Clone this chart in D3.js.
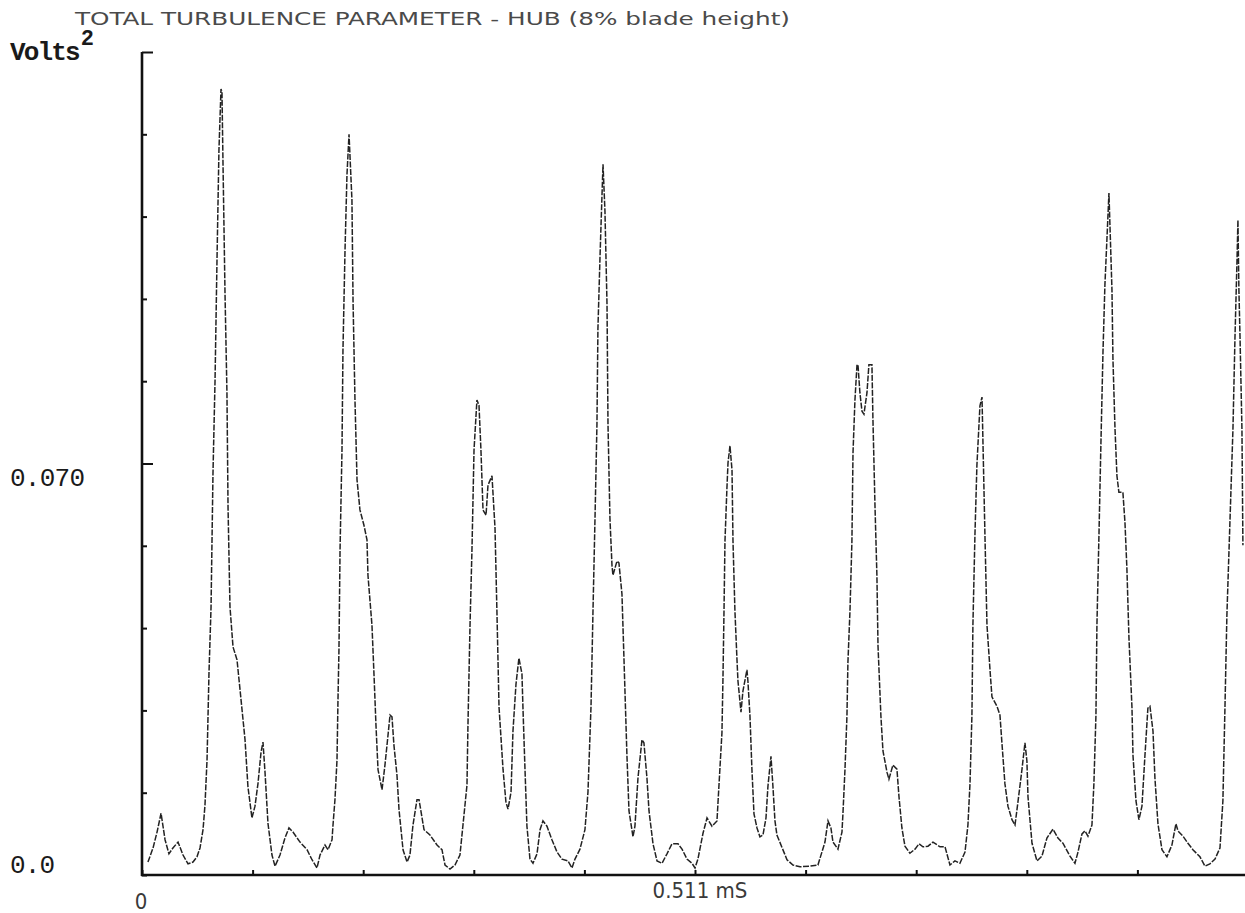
<!DOCTYPE html>
<html>
<head>
<meta charset="utf-8">
<script src="https://cdn.jsdelivr.net/npm/d3@7"></script>
<style>
  body { margin: 0; background: #fff; }
  .mono { font-family: "Liberation Mono", "DejaVu Sans Mono", monospace; fill: #1a1a1a; }
  .thin { font-family: "Liberation Sans Narrow", "DejaVu Sans Condensed", "DejaVu Sans", sans-serif; fill: #3a3a3a; font-stretch: condensed; }
</style>
</head>
<body>
<div id="chart-area"></div>
<script>
// DATA

let titleText = "TOTAL TURBULENCE PARAMETER - HUB (8% blade height)";
let yUnitLabel = "Volts";

// y axis: ticks every 0.014 V^2, labelled ones
let yTicks = [0, 0.014, 0.028, 0.042, 0.056, 0.070, 0.084, 0.098, 0.112, 0.126, 0.14];
let yLabels = [{ v: 0, text: "0.0" }, { v: 0.070, text: "0.070" }];

// x axis: time in microseconds, ticks every 102.2 us
let xTicks = [0, 102.2, 204.4, 306.6, 408.8, 511, 613.2, 715.4, 817.6, 919.8, 1022];
let xLabels = [{ t: 0, text: "0" }, { t: 511, text: "0.511 mS" }];

// trace: [time (us), value (V^2)]
let trace = [
  [5.5,0.0022],[10.2,0.0046],[13.9,0.0073],[17.6,0.0105],[21.3,0.0060],[24.9,0.0036],[28.6,0.0046],
  [33.3,0.0056],[37.9,0.0034],[42.5,0.0019],[47.1,0.0022],[50.8,0.0031],[53.6,0.0046],[56.4,0.0077],
  [58.2,0.0119],[60.1,0.0196],[61.9,0.0344],[63.8,0.0456],[65.6,0.0684],[67.5,0.0842],[69.3,0.1046],
  [71.1,0.1233],[73.0,0.1337],[73.9,0.1332],[74.8,0.1216],[76.7,0.0990],[78.5,0.0820],[79.5,0.0626],
  [81.3,0.0456],[84.1,0.0388],[87.8,0.0366],[90.6,0.0315],[95.2,0.0230],[97.9,0.0150],[101.6,0.0097],
  [104.4,0.0117],[107.2,0.0156],[110.0,0.0209],[111.8,0.0226],[113.7,0.0174],[116.4,0.0088],[120.1,0.0034],
  [122.9,0.0015],[127.5,0.0034],[132.1,0.0063],[135.8,0.0080],[139.5,0.0073],[146.0,0.0056],[152.5,0.0043],
  [157.1,0.0026],[161.7,0.0012],[164.5,0.0034],[169.1,0.0051],[171.9,0.0043],[175.6,0.0060],[176.5,0.0085],
  [178.3,0.0128],[180.2,0.0196],[181.1,0.0298],[182.0,0.0383],[183.0,0.0553],[184.8,0.0723],[185.7,0.0893],
  [187.6,0.1063],[189.4,0.1191],[191.3,0.1260],[194.0,0.1148],[195.0,0.0978],[196.8,0.0808],[198.7,0.0672],
  [201.4,0.0621],[205.1,0.0595],[207.9,0.0570],[208.8,0.0510],[212.5,0.0425],[214.4,0.0340],[216.2,0.0255],
  [218.1,0.0179],[221.8,0.0145],[224.5,0.0187],[226.4,0.0221],[229.2,0.0272],[231.0,0.0269],[232.8,0.0221],
  [235.6,0.0170],[237.5,0.0111],[241.2,0.0043],[244.9,0.0022],[247.6,0.0034],[250.4,0.0085],[254.1,0.0128],
  [256.0,0.0128],[260.6,0.0077],[266.1,0.0068],[272.6,0.0051],[277.2,0.0043],[280.0,0.0017],[284.6,0.0010],
  [289.2,0.0017],[293.8,0.0034],[296.6,0.0085],[300.3,0.0153],[301.2,0.0255],[303.1,0.0425],[304.9,0.0553],
  [306.8,0.0723],[309.5,0.0808],[311.4,0.0799],[313.2,0.0723],[315.1,0.0621],[317.9,0.0612],[319.7,0.0663],
  [323.4,0.0679],[326.2,0.0590],[328.0,0.0446],[329.9,0.0286],[333.6,0.0180],[336.3,0.0124],[338.2,0.0112],
  [341.0,0.0141],[342.8,0.0245],[345.6,0.0325],[348.3,0.0369],[351.1,0.0342],[352.0,0.0286],[353.9,0.0180],
  [355.7,0.0083],[358.5,0.0027],[361.3,0.0020],[365.0,0.0036],[367.8,0.0077],[370.5,0.0092],[374.2,0.0083],
  [378.8,0.0060],[383.5,0.0039],[388.1,0.0027],[393.6,0.0024],[397.3,0.0012],[400.1,0.0027],[404.7,0.0044],
  [409.3,0.0077],[412.1,0.0141],[414.9,0.0286],[416.7,0.0446],[418.6,0.0607],[420.4,0.0767],[421.3,0.0929],
  [423.2,0.1050],[425.0,0.1153],[426.0,0.1209],[427.8,0.1129],[429.7,0.0970],[430.6,0.0767],[432.4,0.0607],
  [434.3,0.0526],[435.2,0.0510],[438.9,0.0534],[440.7,0.0531],[443.5,0.0478],[445.4,0.0366],[448.1,0.0204],
  [450.0,0.0109],[453.7,0.0065],[455.5,0.0083],[458.3,0.0165],[462.0,0.0230],[463.8,0.0225],[466.6,0.0165],
  [468.5,0.0109],[472.2,0.0053],[475.9,0.0024],[480.5,0.0020],[485.1,0.0036],[489.7,0.0053],[495.3,0.0053],
  [499.0,0.0044],[503.6,0.0027],[508.2,0.0020],[511.0,0.0012],[513.7,0.0027],[518.4,0.0071],[522.1,0.0097],
  [526.7,0.0083],[531.3,0.0092],[533.1,0.0151],[535.9,0.0242],[536.8,0.0330],[537.8,0.0449],[538.7,0.0568],
  [540.5,0.0658],[541.5,0.0701],[543.3,0.0730],[545.2,0.0689],[546.1,0.0568],[547.9,0.0449],[549.8,0.0366],
  [550.7,0.0330],[553.5,0.0277],[555.3,0.0313],[559.0,0.0349],[559.9,0.0330],[561.8,0.0270],[563.6,0.0180],
  [565.5,0.0104],[568.3,0.0080],[571.0,0.0065],[573.8,0.0068],[576.6,0.0097],[578.4,0.0151],[581.2,0.0202],
  [583.0,0.0151],[584.9,0.0092],[586.7,0.0068],[596.0,0.0026],[601.5,0.0017],[608.0,0.0014],[617.2,0.0015],
  [624.6,0.0017],[631.1,0.0056],[633.9,0.0092],[636.6,0.0080],[638.5,0.0056],[643.1,0.0044],[646.8,0.0073],
  [647.7,0.0104],[649.6,0.0180],[651.4,0.0270],[652.3,0.0361],[654.2,0.0449],[656.0,0.0568],[657.0,0.0718],
  [658.8,0.0808],[660.7,0.0868],[661.6,0.0868],[663.4,0.0820],[665.3,0.0789],[667.1,0.0784],[669.9,0.0820],
  [671.7,0.0868],[674.5,0.0868],[675.4,0.0777],[677.3,0.0629],[679.1,0.0509],[680.1,0.0390],[682.8,0.0270],
  [684.7,0.0211],[688.4,0.0175],[690.2,0.0163],[693.9,0.0187],[697.6,0.0180],[699.5,0.0133],[702.2,0.0080],
  [705.0,0.0049],[709.6,0.0037],[714.3,0.0044],[718.0,0.0053],[721.6,0.0048],[726.3,0.0049],[730.9,0.0056],
  [737.4,0.0048],[742.0,0.0048],[746.6,0.0017],[751.2,0.0024],[755.8,0.0020],[760.5,0.0039],[763.2,0.0085],
  [765.1,0.0155],[766.9,0.0272],[767.8,0.0425],[769.7,0.0580],[771.5,0.0697],[774.3,0.0798],[776.2,0.0813],
  [777.1,0.0735],[778.9,0.0580],[780.8,0.0425],[783.6,0.0349],[785.4,0.0303],[790.0,0.0287],[792.8,0.0272],
  [794.6,0.0225],[797.4,0.0155],[800.2,0.0117],[803.9,0.0094],[806.7,0.0085],[809.4,0.0124],[813.1,0.0179],
  [815.9,0.0225],[817.7,0.0194],[818.7,0.0133],[822.4,0.0054],[827.0,0.0024],[831.6,0.0032],[836.2,0.0063],
  [841.8,0.0078],[846.4,0.0063],[851.0,0.0054],[857.5,0.0032],[862.1,0.0020],[864.9,0.0039],[868.6,0.0070],
  [871.3,0.0075],[874.1,0.0066],[877.8,0.0085],[879.6,0.0155],[881.5,0.0272],[882.4,0.0425],[884.3,0.0580],
  [886.1,0.0735],[888.0,0.0890],[889.8,0.1005],[891.7,0.1084],[893.5,0.1160],[896.3,0.0995],[897.2,0.0878],
  [899.1,0.0759],[900.9,0.0679],[902.7,0.0651],[906.4,0.0651],[908.3,0.0600],[910.1,0.0521],[912.0,0.0403],
  [914.8,0.0284],[915.7,0.0204],[918.5,0.0126],[921.2,0.0094],[924.0,0.0117],[926.8,0.0204],[929.5,0.0284],
  [931.4,0.0287],[934.2,0.0245],[936.0,0.0165],[938.8,0.0087],[942.5,0.0043],[947.1,0.0031],[951.7,0.0051],
  [955.4,0.0087],[957.3,0.0075],[961.9,0.0066],[966.5,0.0054],[971.1,0.0043],[977.6,0.0031],[982.2,0.0015],
  [986.8,0.0019],[991.5,0.0027],[996.1,0.0046],[998.8,0.0126],[1000.7,0.0284],[1002.5,0.0442],[1005.3,0.0600],
  [1008.1,0.0759],[1010.0,0.0917],[1011.8,0.1043],[1012.7,0.1114],[1013.6,0.0995],[1014.6,0.0917],
  [1016.4,0.0759],[1017.3,0.0561]
];

// CHART AREA

let width = 1245,
  height = 913;

let svg = d3
  .select("#chart-area")
  .append("svg")
  .attr("width", width)
  .attr("height", height);

let x = d3.scaleLinear().domain([0, 1022]).range([142, 1248]);
let y = d3.scaleLinear().domain([0, 0.14]).range([875, 52]);

// TITLE

svg.append("text")
  .attr("class", "thin")
  .attr("x", 75)
  .attr("y", 25)
  .attr("textLength", 715)
  .attr("lengthAdjust", "spacingAndGlyphs")
  .style("font-size", "18px")
  .style("fill", "#4a4a4a")
  .text(titleText);

let unit = svg.append("text")
  .attr("class", "mono")
  .attr("x", 10)
  .attr("y", 60)
  .attr("textLength", 84)
  .style("font-size", "26px")
  .style("font-weight", "bold");
unit.append("tspan").text(yUnitLabel);
unit.append("tspan")
  .attr("dy", -15)
  .attr("dx", 2)
  .style("font-size", "22px")
  .text("2");

// AXES

let yAxis = d3.axisRight(y)
  .tickValues(yTicks)
  .tickSize(5)
  .tickFormat("");

let yAxisGroup = svg.append("g")
  .attr("transform", "translate(" + x(0) + ",0)")
  .call(yAxis);

yAxisGroup.select(".domain").remove();
yAxisGroup.selectAll(".tick line")
  .attr("stroke", "#111")
  .attr("stroke-width", 2)
  .attr("x2", function(d) {
    return d === 0.070 || d === 0.14 ? 11 : 5;
  });

let xAxis = d3.axisTop(x)
  .tickValues(xTicks)
  .tickSize(5)
  .tickFormat("");

let xAxisGroup = svg.append("g")
  .attr("transform", "translate(0," + y(0) + ")")
  .call(xAxis);

xAxisGroup.select(".domain").remove();
xAxisGroup.selectAll(".tick line")
  .attr("stroke", "#111")
  .attr("stroke-width", 2);

// axis lines
svg.append("line")
  .attr("x1", x(0)).attr("x2", x(0))
  .attr("y1", y(0.14)).attr("y2", y(0) + 1)
  .attr("stroke", "#111")
  .attr("stroke-width", 2.6);

svg.append("line")
  .attr("x1", x(0) - 1).attr("x2", width)
  .attr("y1", y(0)).attr("y2", y(0))
  .attr("stroke", "#111")
  .attr("stroke-width", 2.6);

// axis labels (0.070 sits just below its tick, 0.0 just above the axis)
svg.selectAll("text.ylab")
  .data(yLabels)
  .enter()
  .append("text")
  .attr("class", "mono ylab")
  .attr("x", 10)
  .attr("y", function(d) {
    return d.v === 0 ? y(d.v) - 2 : y(d.v) + 22;
  })
  .attr("textLength", function(d) {
    return d.text.length * 15;
  })
  .style("font-size", "26px")
  .text(function(d) {
    return d.text;
  });

svg.selectAll("text.xlab")
  .data(xLabels)
  .enter()
  .append("text")
  .attr("class", "thin xlab")
  .attr("x", function(d) {
    return d.t === 0 ? x(d.t) - 1 : x(d.t) + 5;
  })
  .attr("y", function(d) {
    return d.t === 0 ? 909 : 898;
  })
  .style("text-anchor", "middle")
  .style("font-size", "22px")
  .text(function(d) {
    return d.text;
  });

// TRACE

let line = d3.line()
  .x(function(d) {
    return x(d[0]);
  })
  .y(function(d) {
    return y(d[1]);
  });

svg.append("path")
  .datum(trace)
  .attr("fill", "none")
  .attr("stroke", "#222")
  .attr("stroke-width", 1.5)
  .attr("stroke-dasharray", "6,1.5")
  .attr("d", line);
</script>
</body>
</html>
